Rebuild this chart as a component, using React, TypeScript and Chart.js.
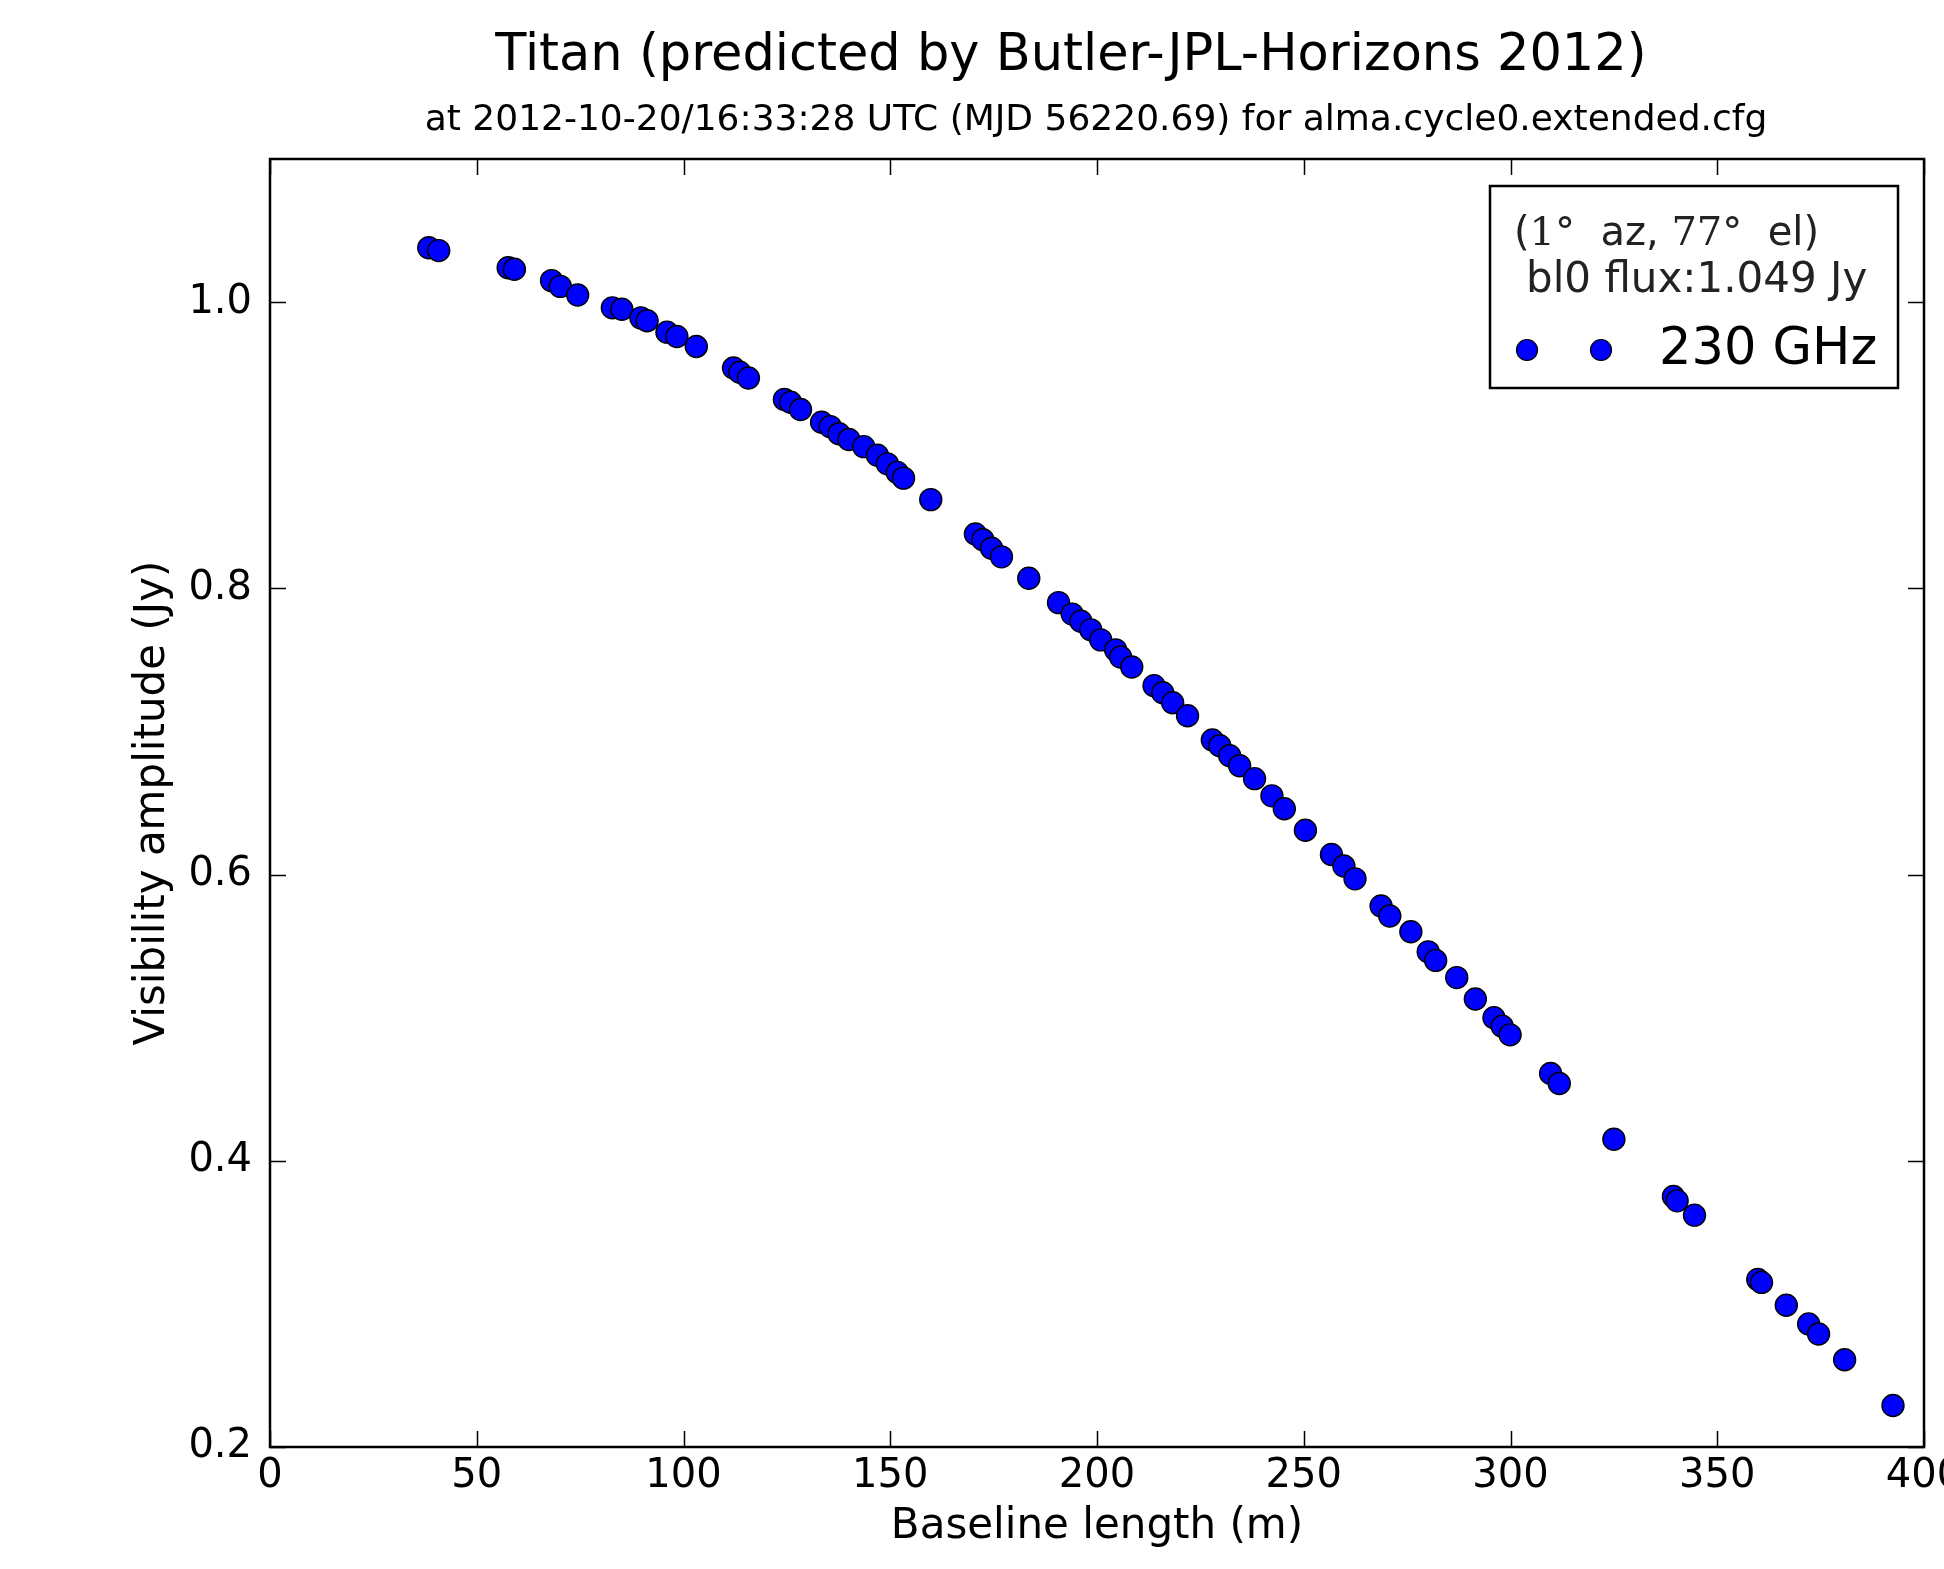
import React, { useEffect, useRef } from "react";
import { Chart, registerables } from "chart.js";

Chart.register(...registerables);

const titleText = "Titan (predicted by Butler-JPL-Horizons 2012)";
const subtitleText = "at 2012-10-20/16:33:28 UTC (MJD 56220.69) for alma.cycle0.extended.cfg";
const xAxisLabel = "Baseline length (m)";
const yAxisLabel = "Visibility amplitude (Jy)";
const seriesLabel = "230 GHz";
const legendFluxLine = "bl0 flux:1.049 Jy";

const xTickValues = [0, 50, 100, 150, 200, 250, 300, 350, 400];
const yTickValues = [0.2, 0.4, 0.6, 0.8, 1.0];

const baselineLength = [
  38.4, 40.8, 57.6, 59.1, 68.1, 70.2, 74.4,
  82.8, 85.1, 89.7, 91.2, 96.0, 98.4, 103.1,
  112.1, 113.6, 115.7, 124.4, 125.9, 128.3,
  133.4, 135.5, 137.6, 140.0, 143.6,
  146.9, 149.3, 151.7, 153.2, 159.8,
  170.6, 172.4, 174.5, 176.9, 183.5,
  190.7, 194.0, 196.1, 198.5,
  200.9, 204.5, 205.7, 208.4,
  213.8, 215.9, 218.3, 221.9,
  227.9, 229.7, 232.1, 234.5,
  238.1, 242.3, 245.3, 250.4,
  256.7, 259.7, 262.4, 268.7, 270.8,
  275.9, 280.1, 281.9,
  287.0, 291.5, 296.0, 298.0, 299.9,
  309.7, 311.8, 325.0,
  339.4, 340.3, 344.5,
  359.8, 360.7, 366.7,
  372.1, 374.5, 380.8, 392.5,
];

const visAmplitude = [
  1.038, 1.036, 1.024, 1.023, 1.015, 1.011, 1.005,
  0.996, 0.995, 0.989, 0.987, 0.979, 0.976, 0.969,
  0.954, 0.951, 0.947, 0.932, 0.930, 0.925,
  0.916, 0.913, 0.908, 0.904, 0.899,
  0.893, 0.887, 0.881, 0.877, 0.862,
  0.838, 0.834, 0.828, 0.822, 0.807,
  0.790, 0.782, 0.777, 0.771,
  0.764, 0.757, 0.752, 0.745,
  0.732, 0.727, 0.720, 0.711,
  0.694, 0.690, 0.683, 0.676,
  0.667, 0.655, 0.646, 0.631,
  0.614, 0.606, 0.597, 0.578, 0.571,
  0.560, 0.546, 0.540,
  0.528, 0.513, 0.500, 0.494, 0.488,
  0.461, 0.454, 0.415,
  0.375, 0.372, 0.362,
  0.317, 0.315, 0.299,
  0.286, 0.279, 0.261, 0.229,
];

const SANS = "'DejaVu Sans', sans-serif";
const SERIF = "'DejaVu Serif', serif";
const MARKER_FILL = "#0000ff";

const decorPlugin = {
  id: "decor",
  afterDraw(chart: any) {
    const ctx = chart.ctx as CanvasRenderingContext2D;
    const { left, right, top, bottom } = chart.chartArea;
    const xs = chart.scales.x;
    const ys = chart.scales.y;
    ctx.save();

    // ticks (inward, all four sides)
    ctx.strokeStyle = "#000";
    ctx.lineWidth = 1.5;
    const tl = 16;
    xTickValues.forEach((v) => {
      const px = Math.round(xs.getPixelForValue(v)) + 0.5;
      ctx.beginPath();
      ctx.moveTo(px, bottom);
      ctx.lineTo(px, bottom - tl);
      ctx.moveTo(px, top);
      ctx.lineTo(px, top + tl);
      ctx.stroke();
    });
    yTickValues.forEach((v) => {
      const py = Math.round(ys.getPixelForValue(v)) + 0.5;
      ctx.beginPath();
      ctx.moveTo(left, py);
      ctx.lineTo(left + tl, py);
      ctx.moveTo(right, py);
      ctx.lineTo(right - tl, py);
      ctx.stroke();
    });

    // frame
    ctx.lineWidth = 2.5;
    ctx.strokeRect(left, top, right - left, bottom - top);

    // titles
    ctx.fillStyle = "#000";
    ctx.textAlign = "center";
    ctx.textBaseline = "alphabetic";
    ctx.font = `51px ${SANS}`;
    ctx.fillText(titleText, 1071, 70);
    ctx.font = `36px ${SANS}`;
    ctx.fillText(subtitleText, 1096, 130);

    // axis titles
    ctx.font = `42px ${SANS}`;
    ctx.fillText(xAxisLabel, (left + right) / 2, 1538);
    ctx.save();
    ctx.translate(164, (top + bottom) / 2);
    ctx.rotate(-Math.PI / 2);
    ctx.fillText(yAxisLabel, 0, 0);
    ctx.restore();

    // legend box
    const lx = 1490, ly = 186, lw = 408, lh = 202;
    ctx.fillStyle = "#fff";
    ctx.fillRect(lx, ly, lw, lh);
    ctx.strokeStyle = "#000";
    ctx.lineWidth = 2.5;
    ctx.strokeRect(lx, ly, lw, lh);

    // legend line 1 (mixed sans / serif math)
    ctx.fillStyle = "#222";
    ctx.textAlign = "left";
    const parts: [string, string][] = [
      ["(", SANS],
      ["1°", SERIF],
      ["  az, ", SANS],
      ["77°", SERIF],
      ["  el)", SANS],
    ];
    let cx = 1514;
    parts.forEach(([t, f]) => {
      ctx.font = `40px ${f}`;
      ctx.fillText(t, cx, 245);
      cx += ctx.measureText(t).width;
    });
    ctx.font = `42px ${SANS}`;
    ctx.fillText(legendFluxLine, 1526, 292);

    // legend markers
    [1527, 1601].forEach((mx) => {
      ctx.beginPath();
      ctx.arc(mx, 350, 10.5, 0, Math.PI * 2);
      ctx.fillStyle = MARKER_FILL;
      ctx.fill();
      ctx.lineWidth = 1.2;
      ctx.strokeStyle = "#000";
      ctx.stroke();
    });
    ctx.fillStyle = "#000";
    ctx.font = `51px ${SANS}`;
    ctx.fillText(seriesLabel, 1659, 364);

    ctx.restore();
  },
};

export default function App() {
  const ref = useRef<HTMLCanvasElement | null>(null);

  useEffect(() => {
    if (!ref.current) return;
    const points = baselineLength.map((x, i) => ({ x, y: visAmplitude[i] }));
    const chart = new Chart(ref.current, {
      type: "scatter",
      data: {
        datasets: [
          {
            label: seriesLabel,
            data: points,
            backgroundColor: MARKER_FILL,
            borderColor: "#000",
            borderWidth: 1.4,
            pointRadius: 11,
            pointHoverRadius: 11,
          },
        ],
      },
      options: {
        responsive: false,
        animation: false,
        devicePixelRatio: 1,
        layout: { padding: { left: 0, right: 76, top: 159, bottom: 0 } },
        plugins: {
          legend: { display: false },
          title: { display: false },
          tooltip: { enabled: false },
        },
        scales: {
          x: {
            type: "linear",
            min: 0,
            max: 400,
            afterBuildTicks: (s: any) => {
              s.ticks = xTickValues.map((v) => ({ value: v }));
            },
            afterFit: (s: any) => {
              s.height = 122;
            },
            ticks: {
              font: { family: SANS, size: 40 },
              color: "#000",
              padding: 6,
              maxRotation: 0,
              autoSkip: false,
              callback: (v: any) => String(v),
            },
            grid: { display: false, drawTicks: false },
            border: { display: false },
          },
          y: {
            type: "linear",
            min: 0.2,
            max: 1.1,
            afterBuildTicks: (s: any) => {
              s.ticks = yTickValues.map((v) => ({ value: v }));
            },
            afterFit: (s: any) => {
              s.width = 270;
            },
            ticks: {
              font: { family: SANS, size: 40 },
              color: "#000",
              padding: 18,
              autoSkip: false,
              callback: (v: any) => Number(v).toFixed(1),
            },
            grid: { display: false, drawTicks: false },
            border: { display: false },
          },
        },
      },
      plugins: [decorPlugin],
    });
    return () => chart.destroy();
  }, []);

  return (
    <div
      style={{
        position: "absolute",
        left: 0,
        top: 0,
        width: 1944,
        height: 1569,
        overflow: "hidden",
        background: "#fff",
      }}
    >
      <canvas ref={ref} width={2000} height={1569} style={{ width: 2000, height: 1569, display: "block" }} />
    </div>
  );
}
